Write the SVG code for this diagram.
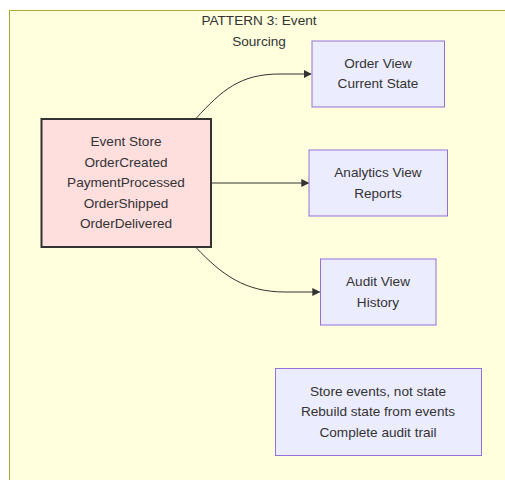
<svg xmlns="http://www.w3.org/2000/svg" width="505" height="480" viewBox="0 0 505 480">
<style>
text{font-family:"Liberation Sans",Arial,sans-serif;font-size:13.6px;fill:#333;text-anchor:middle;dominant-baseline:central}
.view{fill:#ECECFF;stroke:#9370DB;stroke-width:1}
.edge{fill:none;stroke:#333;stroke-width:1}
</style>
<defs>
<marker id="arrow" viewBox="0 0 10 10" refX="9" refY="5" markerWidth="8" markerHeight="8" markerUnits="userSpaceOnUse" orient="auto">
<path d="M0,0 L10,5 L0,10 z" fill="#333"/>
</marker>
</defs>
<rect x="9.5" y="10.5" width="510" height="480" fill="#ffffde" stroke="#aaaa33" stroke-width="1"/>
<text x="259" y="20">PATTERN 3: Event</text>
<text x="259" y="41">Sourcing</text>
<g id="connectors">
<path class="edge" d="M195.5,119 C222,90 240,74 280,74 L311,74" marker-end="url(#arrow)"/>
<path class="edge" d="M211,183 L308.5,183" marker-end="url(#arrow)"/>
<path class="edge" d="M195.5,247 C222,275 245,292 285,292 L319.5,292" marker-end="url(#arrow)"/>
</g>
<g id="eventstore">
<rect x="41.5" y="119" width="169.5" height="128" fill="#ffdede" stroke="#333" stroke-width="2"/>
<text x="126" y="141.5">Event Store</text>
<text x="126" y="162">OrderCreated</text>
<text x="126" y="182.5">PaymentProcessed</text>
<text x="126" y="203">OrderShipped</text>
<text x="126" y="223.5">OrderDelivered</text>
</g>
<g id="orderview">
<rect class="view" x="312" y="41" width="132.5" height="66"/>
<text x="378" y="63.5">Order View</text>
<text x="378" y="83">Current State</text>
</g>
<g id="analyticsview">
<rect class="view" x="309" y="150" width="138.5" height="66"/>
<text x="378" y="172.5">Analytics View</text>
<text x="378" y="193.5">Reports</text>
</g>
<g id="auditview">
<rect class="view" x="320.5" y="259" width="115.5" height="66"/>
<text x="378" y="281.5">Audit View</text>
<text x="378" y="302">History</text>
</g>
<g id="notes">
<rect class="view" x="275.5" y="368.5" width="206" height="87"/>
<text x="378" y="391.5">Store events, not state</text>
<text x="378" y="411.5">Rebuild state from events</text>
<text x="378" y="432">Complete audit trail</text>
</g>
</svg>
